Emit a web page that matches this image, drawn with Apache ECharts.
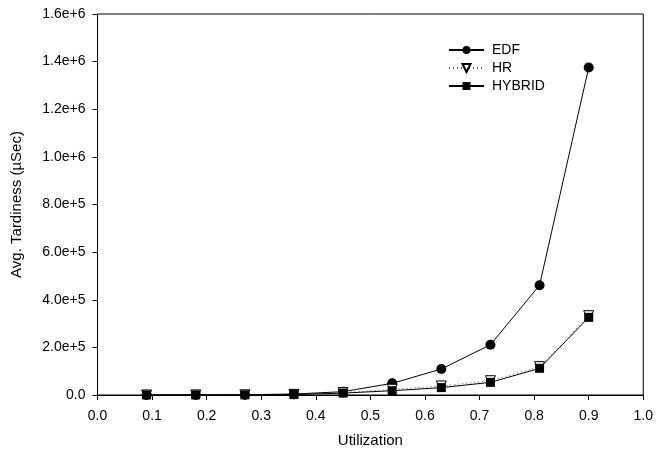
<!DOCTYPE html>
<html>
<head>
<meta charset="utf-8">
<script src="https://cdn.jsdelivr.net/npm/echarts@6/dist/echarts.min.js"></script>
<style>
html,body{margin:0;padding:0;background:#fff;}
#main{width:656px;height:459px;}
</style>
</head>
<body>
<div id="main"></div>
<script>
var utilization = [0.09, 0.18, 0.27, 0.36, 0.45, 0.54, 0.63, 0.72, 0.81, 0.90];
var edf    = [300, 600, 1200, 4000, 14000, 49000, 109000, 211000, 461000, 1375000];
var hr     = [200, 400, 800, 2500, 10000, 24000, 38000, 60000, 119000, 333000];
var hybrid = [150, 300, 600, 2000, 8000, 18000, 31000, 53000, 112000, 326000];
var seriesNames = ['EDF', 'HR', 'HYBRID'];
var xAxisName = 'Utilization';
var yAxisName = 'Avg. Tardiness (\u00b5Sec)';

function pairs(xs, ys) { return xs.map(function (x, i) { return [x, ys[i]]; }); }

var font = 'Liberation Sans, Arial, sans-serif';
var chart = echarts.init(document.getElementById('main'), null, {renderer: 'canvas'});
chart.setOption({
  animation: false,
  backgroundColor: '#fff',
  textStyle: {fontFamily: font, color: '#000'},
  grid: {left: 97.5, right: 12, top: 14, bottom: 64, show: true, borderColor: '#000', borderWidth: 1, containLabel: false},
  legend: {
    orient: 'vertical', left: 448, top: 42, padding: 0,
    itemWidth: 35, itemHeight: 10, itemGap: 2,
    textStyle: {fontFamily: font, fontSize: 14, color: '#000', lineHeight: 16, padding: [0, 0, 0, 3]},
    data: seriesNames
  },
  xAxis: {
    type: 'value', min: 0, max: 1, interval: 0.1,
    name: xAxisName, nameLocation: 'middle', nameGap: 38,
    nameTextStyle: {fontFamily: font, fontSize: 15, color: '#000'},
    axisLine: {lineStyle: {color: '#000', width: 1}},
    axisTick: {show: true, inside: false, length: 5, lineStyle: {color: '#000'}},
    axisLabel: {fontFamily: font, fontSize: 14, color: '#000', margin: 14, formatter: function (v) { return v.toFixed(1); }},
    splitLine: {show: false}
  },
  yAxis: {
    type: 'value', min: 0, max: 1600000, interval: 200000,
    name: yAxisName, nameLocation: 'middle', nameGap: 73, nameRotate: 90,
    nameTextStyle: {fontFamily: font, fontSize: 15, color: '#000'},
    axisLine: {show: true, lineStyle: {color: '#000', width: 1}},
    axisTick: {show: true, inside: false, length: 5, lineStyle: {color: '#000'}},
    axisLabel: {fontFamily: font, fontSize: 14, color: '#000', margin: 12,
      formatter: function (v) { return v === 0 ? '0.0' : v.toExponential(1); }},
    splitLine: {show: false}
  },
  series: [
    {
      name: seriesNames[0], type: 'line', data: pairs(utilization, edf),
      symbol: 'circle', symbolSize: 10, showAllSymbol: true,
      lineStyle: {color: '#000', width: 1, type: 'solid'},
      itemStyle: {color: '#000', borderColor: '#000', borderWidth: 0},
      z: 2
    },
    {
      name: seriesNames[1], type: 'line', data: pairs(utilization, hr),
      symbol: 'triangle', symbolRotate: 180, symbolSize: 10, showAllSymbol: true,
      lineStyle: {color: '#555', width: 1, type: [1, 3]},
      itemStyle: {color: '#fff', borderColor: '#000', borderWidth: 1},
      z: 3
    },
    {
      name: seriesNames[2], type: 'line', data: pairs(utilization, hybrid),
      symbol: 'rect', symbolSize: 9, showAllSymbol: true,
      lineStyle: {color: '#000', width: 1, type: 'solid'},
      itemStyle: {color: '#000', borderColor: '#000', borderWidth: 0},
      z: 4
    }
  ]
});
</script>
</body>
</html>
